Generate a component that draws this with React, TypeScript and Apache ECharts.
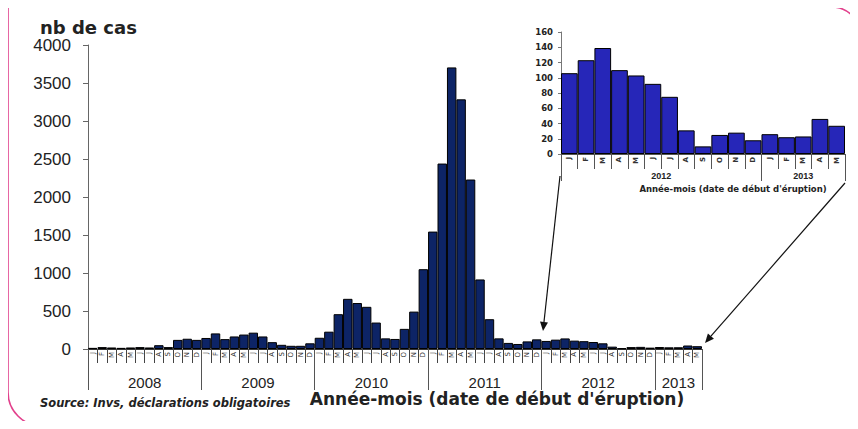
import { useEffect, useRef } from 'react';
import * as echarts from 'echarts';

// ---------- data ----------
const monthLetters = ['J', 'F', 'M', 'A', 'M', 'J', 'J', 'A', 'S', 'O', 'N', 'D'];

const mainYears = ['2008', '2009', '2010', '2011', '2012', '2013'];
const mainMonthsPerYear = [12, 12, 12, 12, 12, 5];
const mainCases = [
  15, 25, 20, 15, 20, 25, 20, 50, 25, 120, 135, 120,
  145, 205, 130, 165, 190, 215, 165, 90, 55, 42, 42, 75,
  148, 228, 458, 660, 605, 555, 348, 140, 132, 265, 492, 1050,
  1545, 2440, 3705, 3285, 2230, 915, 392, 140, 80, 66, 100, 127,
  106, 123, 139, 110, 103, 92, 75, 31, 10, 25, 28, 18,
  26, 22, 23, 46, 37,
];

const insetYears = ['2012', '2013'];
const insetMonthsPerYear = [12, 5];
const insetCases = [106, 123, 139, 110, 103, 92, 75, 31, 10, 25, 28, 18, 26, 22, 23, 46, 37];

const yTitle = 'nb de cas';
const xTitle = "Année-mois (date de début d'éruption)";
const sourceText = 'Source: Invs, déclarations obligatoires';

const SANS = "'DejaVu Sans', sans-serif";
const ARIAL = "'Liberation Sans', Arial, sans-serif";

// ---------- helpers ----------
const monthsFor = (counts: number[]) => counts.flatMap((c) => monthLetters.slice(0, c));
const boundsFor = (counts: number[]) => {
  const out = [0];
  counts.forEach((c) => out.push(out[out.length - 1] + c));
  return out;
};
const centersFor = (counts: number[]) => {
  const b = boundsFor(counts);
  return counts.map((c, i) => b[i] + c / 2);
};

const arrow = (x1: number, y1: number, x2: number, y2: number) => {
  const dx = x2 - x1;
  const dy = y2 - y1;
  const len = Math.sqrt(dx * dx + dy * dy);
  const ux = dx / len;
  const uy = dy / len;
  const hl = 9;
  const hw = 4;
  const bx = x2 - ux * hl;
  const by = y2 - uy * hl;
  return [
    {
      type: 'line',
      shape: { x1, y1, x2: bx, y2: by },
      style: { stroke: '#111', lineWidth: 1.2 },
      z: 100,
    },
    {
      type: 'polygon',
      shape: {
        points: [
          [x2, y2],
          [bx - uy * hw, by + ux * hw],
          [bx + uy * hw, by - ux * hw],
        ],
      },
      style: { fill: '#111' },
      z: 100,
    },
  ];
};

echarts.graphic.registerShape(
  'pinkFrame',
  echarts.graphic.extendPath('M 42 426 A 34 34 0 0 1 8 392 L 8 7 L 832 7 A 28 28 0 0 1 860 35', {})
);

export default function App() {
  const ref = useRef<HTMLDivElement>(null);

  useEffect(() => {
    if (!ref.current) return;
    const chart = echarts.init(ref.current, undefined, { renderer: 'svg' });

    const mainBounds = boundsFor(mainMonthsPerYear);
    const mainCenters = centersFor(mainMonthsPerYear);
    const insetBounds = boundsFor(insetMonthsPerYear);
    const insetCenters = centersFor(insetMonthsPerYear);
    const mainTotal = mainBounds[mainBounds.length - 1];
    const insetTotal = insetBounds[insetBounds.length - 1];

    chart.setOption({
      animation: false,
      backgroundColor: '#ffffff',
      textStyle: { fontFamily: SANS },
      grid: [
        { left: 88, top: 45, width: 614, height: 304, containLabel: false },
        { left: 561, top: 32, width: 284, height: 122, containLabel: false },
      ],
      xAxis: [
        {
          type: 'category',
          gridIndex: 0,
          data: monthsFor(mainMonthsPerYear),
          boundaryGap: true,
          axisLine: { show: true, lineStyle: { color: '#333', width: 1 } },
          axisTick: { show: true, interval: 0, length: 14, lineStyle: { color: '#444' } },
          axisLabel: { interval: 0, rotate: 90, fontSize: 7, margin: 3, color: '#333', fontFamily: SANS },
          splitLine: { show: false },
        },
        {
          type: 'value',
          gridIndex: 0,
          position: 'bottom',
          min: 0,
          max: mainTotal,
          axisLine: { show: false },
          splitLine: { show: false },
          axisTick: { show: true, customValues: mainBounds, length: 41, lineStyle: { color: '#555' } },
          axisLabel: { show: false },
        },
        {
          type: 'category',
          gridIndex: 1,
          data: monthsFor(insetMonthsPerYear),
          boundaryGap: true,
          axisLine: { show: true, lineStyle: { color: '#555', width: 1 } },
          axisTick: { show: true, interval: 0, length: 15, lineStyle: { color: '#555' } },
          axisLabel: { interval: 0, rotate: 90, fontSize: 7, margin: 3, color: '#333', fontFamily: SANS, fontWeight: 'bold' },
          splitLine: { show: false },
        },
        {
          type: 'value',
          gridIndex: 1,
          position: 'bottom',
          min: 0,
          max: insetTotal,
          axisLine: { show: false },
          splitLine: { show: false },
          axisTick: { show: true, customValues: insetBounds, length: 27, lineStyle: { color: '#555' } },
          axisLabel: { show: false },
        },
      ],
      yAxis: [
        {
          type: 'value',
          gridIndex: 0,
          min: 0,
          max: 4000,
          interval: 500,
          axisLine: { show: true, lineStyle: { color: '#666' } },
          axisTick: { show: true, length: 5, lineStyle: { color: '#666' } },
          splitLine: { show: false },
          axisLabel: { fontSize: 17, margin: 17, color: '#222', fontFamily: ARIAL, formatter: (v: number) => String(v) },
        },
        {
          type: 'value',
          gridIndex: 1,
          min: 0,
          max: 160,
          interval: 20,
          axisLine: { show: true, lineStyle: { color: '#777' } },
          axisTick: { show: true, length: 3, lineStyle: { color: '#777' } },
          splitLine: { show: false },
          axisLabel: { fontSize: 8.5, fontWeight: 'bold', margin: 8, color: '#222', fontFamily: SANS, formatter: (v: number) => String(v) },
        },
      ],
      series: [
        {
          type: 'bar',
          xAxisIndex: 0,
          yAxisIndex: 0,
          data: mainCases,
          barCategoryGap: '0%',
          itemStyle: { color: '#0d2466', borderColor: '#000', borderWidth: 1 },
        },
        {
          type: 'bar',
          xAxisIndex: 2,
          yAxisIndex: 1,
          data: insetCases,
          barCategoryGap: '0%',
          itemStyle: { color: '#2626b8', borderColor: '#000', borderWidth: 1 },
        },
      ],
    });

    // year labels placed through the axes' own scales
    const mainBase = chart.convertToPixel({ yAxisIndex: 0 }, 0) as number;
    const insetBase = chart.convertToPixel({ yAxisIndex: 1 }, 0) as number;
    const mainYearTexts = mainYears.map((y, i) => ({
      type: 'text',
      x: chart.convertToPixel({ xAxisIndex: 1 }, mainCenters[i]) as number,
      y: mainBase + 33,
      style: { text: y, font: "15px 'Liberation Sans', Arial, sans-serif", fill: '#222', textAlign: 'center', textVerticalAlign: 'middle' },
    }));
    const insetYearTexts = insetYears.map((y, i) => ({
      type: 'text',
      x: chart.convertToPixel({ xAxisIndex: 3 }, insetCenters[i]) as number,
      y: insetBase + 22,
      style: { text: y, font: "bold 9px 'Liberation Sans', Arial, sans-serif", fill: '#222', textAlign: 'center', textVerticalAlign: 'middle' },
    }));

    chart.setOption({
      graphic: [
        {
          type: 'pinkFrame',
          x: 0,
          y: 0,
          style: { fill: 'none', stroke: '#e2408c', lineWidth: 1.6 },
          z: 50,
        },
        {
          type: 'text',
          x: 40,
          y: 27,
          style: { text: yTitle, font: "bold 18px 'DejaVu Sans', sans-serif", fill: '#222', textVerticalAlign: 'middle' },
        },
        {
          type: 'text',
          x: 497,
          y: 399,
          style: { text: xTitle, font: "bold 17px 'DejaVu Sans', sans-serif", fill: '#222', textAlign: 'center', textVerticalAlign: 'middle' },
        },
        {
          type: 'text',
          x: 40,
          y: 403,
          style: { text: sourceText, font: "italic bold 11.5px 'DejaVu Sans', sans-serif", fill: '#222', textVerticalAlign: 'middle' },
        },
        {
          type: 'text',
          x: 733,
          y: 189,
          style: { text: xTitle, font: "bold 8.5px 'DejaVu Sans', sans-serif", fill: '#222', textAlign: 'center', textVerticalAlign: 'middle' },
        },
        ...mainYearTexts,
        ...insetYearTexts,
        ...arrow(560, 176, 543, 331),
        ...arrow(845, 183, 705, 343),
      ],
    });

    return () => chart.dispose();
  }, []);

  return <div ref={ref} style={{ width: 858, height: 429, margin: -8 }} />;
}
